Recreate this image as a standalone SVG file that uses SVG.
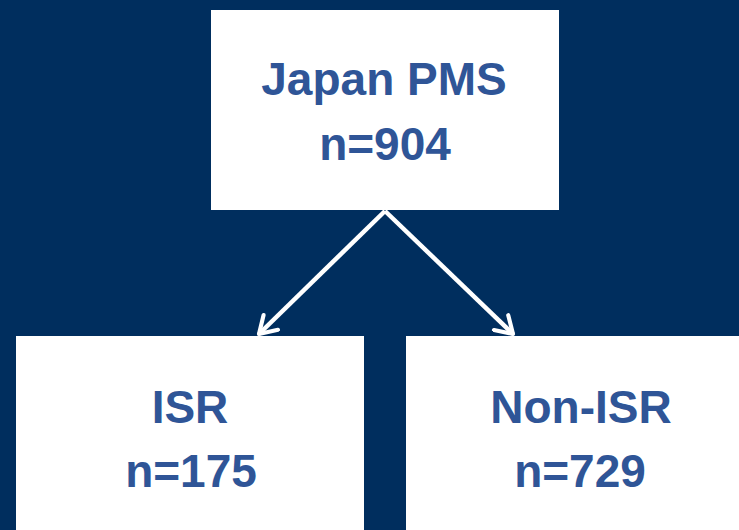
<svg xmlns="http://www.w3.org/2000/svg" width="739" height="530" viewBox="0 0 739 530">
<style>
.box{fill:#ffffff}
.t{font-family:"Liberation Sans",Arial,sans-serif;font-weight:bold;font-size:46px;fill:#2F5597;text-anchor:middle}
.c{stroke:#ffffff;stroke-width:4.5;fill:none}
</style>
<defs>
<marker id="ah" viewBox="0 0 12 12" refX="10" refY="6" markerWidth="5.5" markerHeight="5.5" markerUnits="strokeWidth" orient="auto">
<path d="M2,1 L10,6 L2,11" fill="none" stroke="#ffffff" stroke-width="2" stroke-linecap="round" stroke-linejoin="round"/>
</marker>
</defs>
<rect width="739" height="530" fill="#002E5E"/>
<g id="connectors">
<line class="c" x1="385" y1="211" x2="259" y2="334" marker-end="url(#ah)"/>
<line class="c" x1="385" y1="211" x2="513" y2="334" marker-end="url(#ah)"/>
</g>
<g id="node-japan">
<rect class="box" x="211" y="10" width="348" height="200"/>
<text class="t" x="384" y="95">Japan PMS</text>
<text class="t" x="385" y="160">n=904</text>
</g>
<g id="node-isr">
<rect class="box" x="16" y="336" width="348" height="194"/>
<text class="t" x="190" y="423">ISR</text>
<text class="t" x="191" y="487">n=175</text>
</g>
<g id="node-nonisr">
<rect class="box" x="406" y="336" width="333" height="194"/>
<text class="t" x="581" y="423">Non-ISR</text>
<text class="t" x="580" y="487">n=729</text>
</g>
</svg>
